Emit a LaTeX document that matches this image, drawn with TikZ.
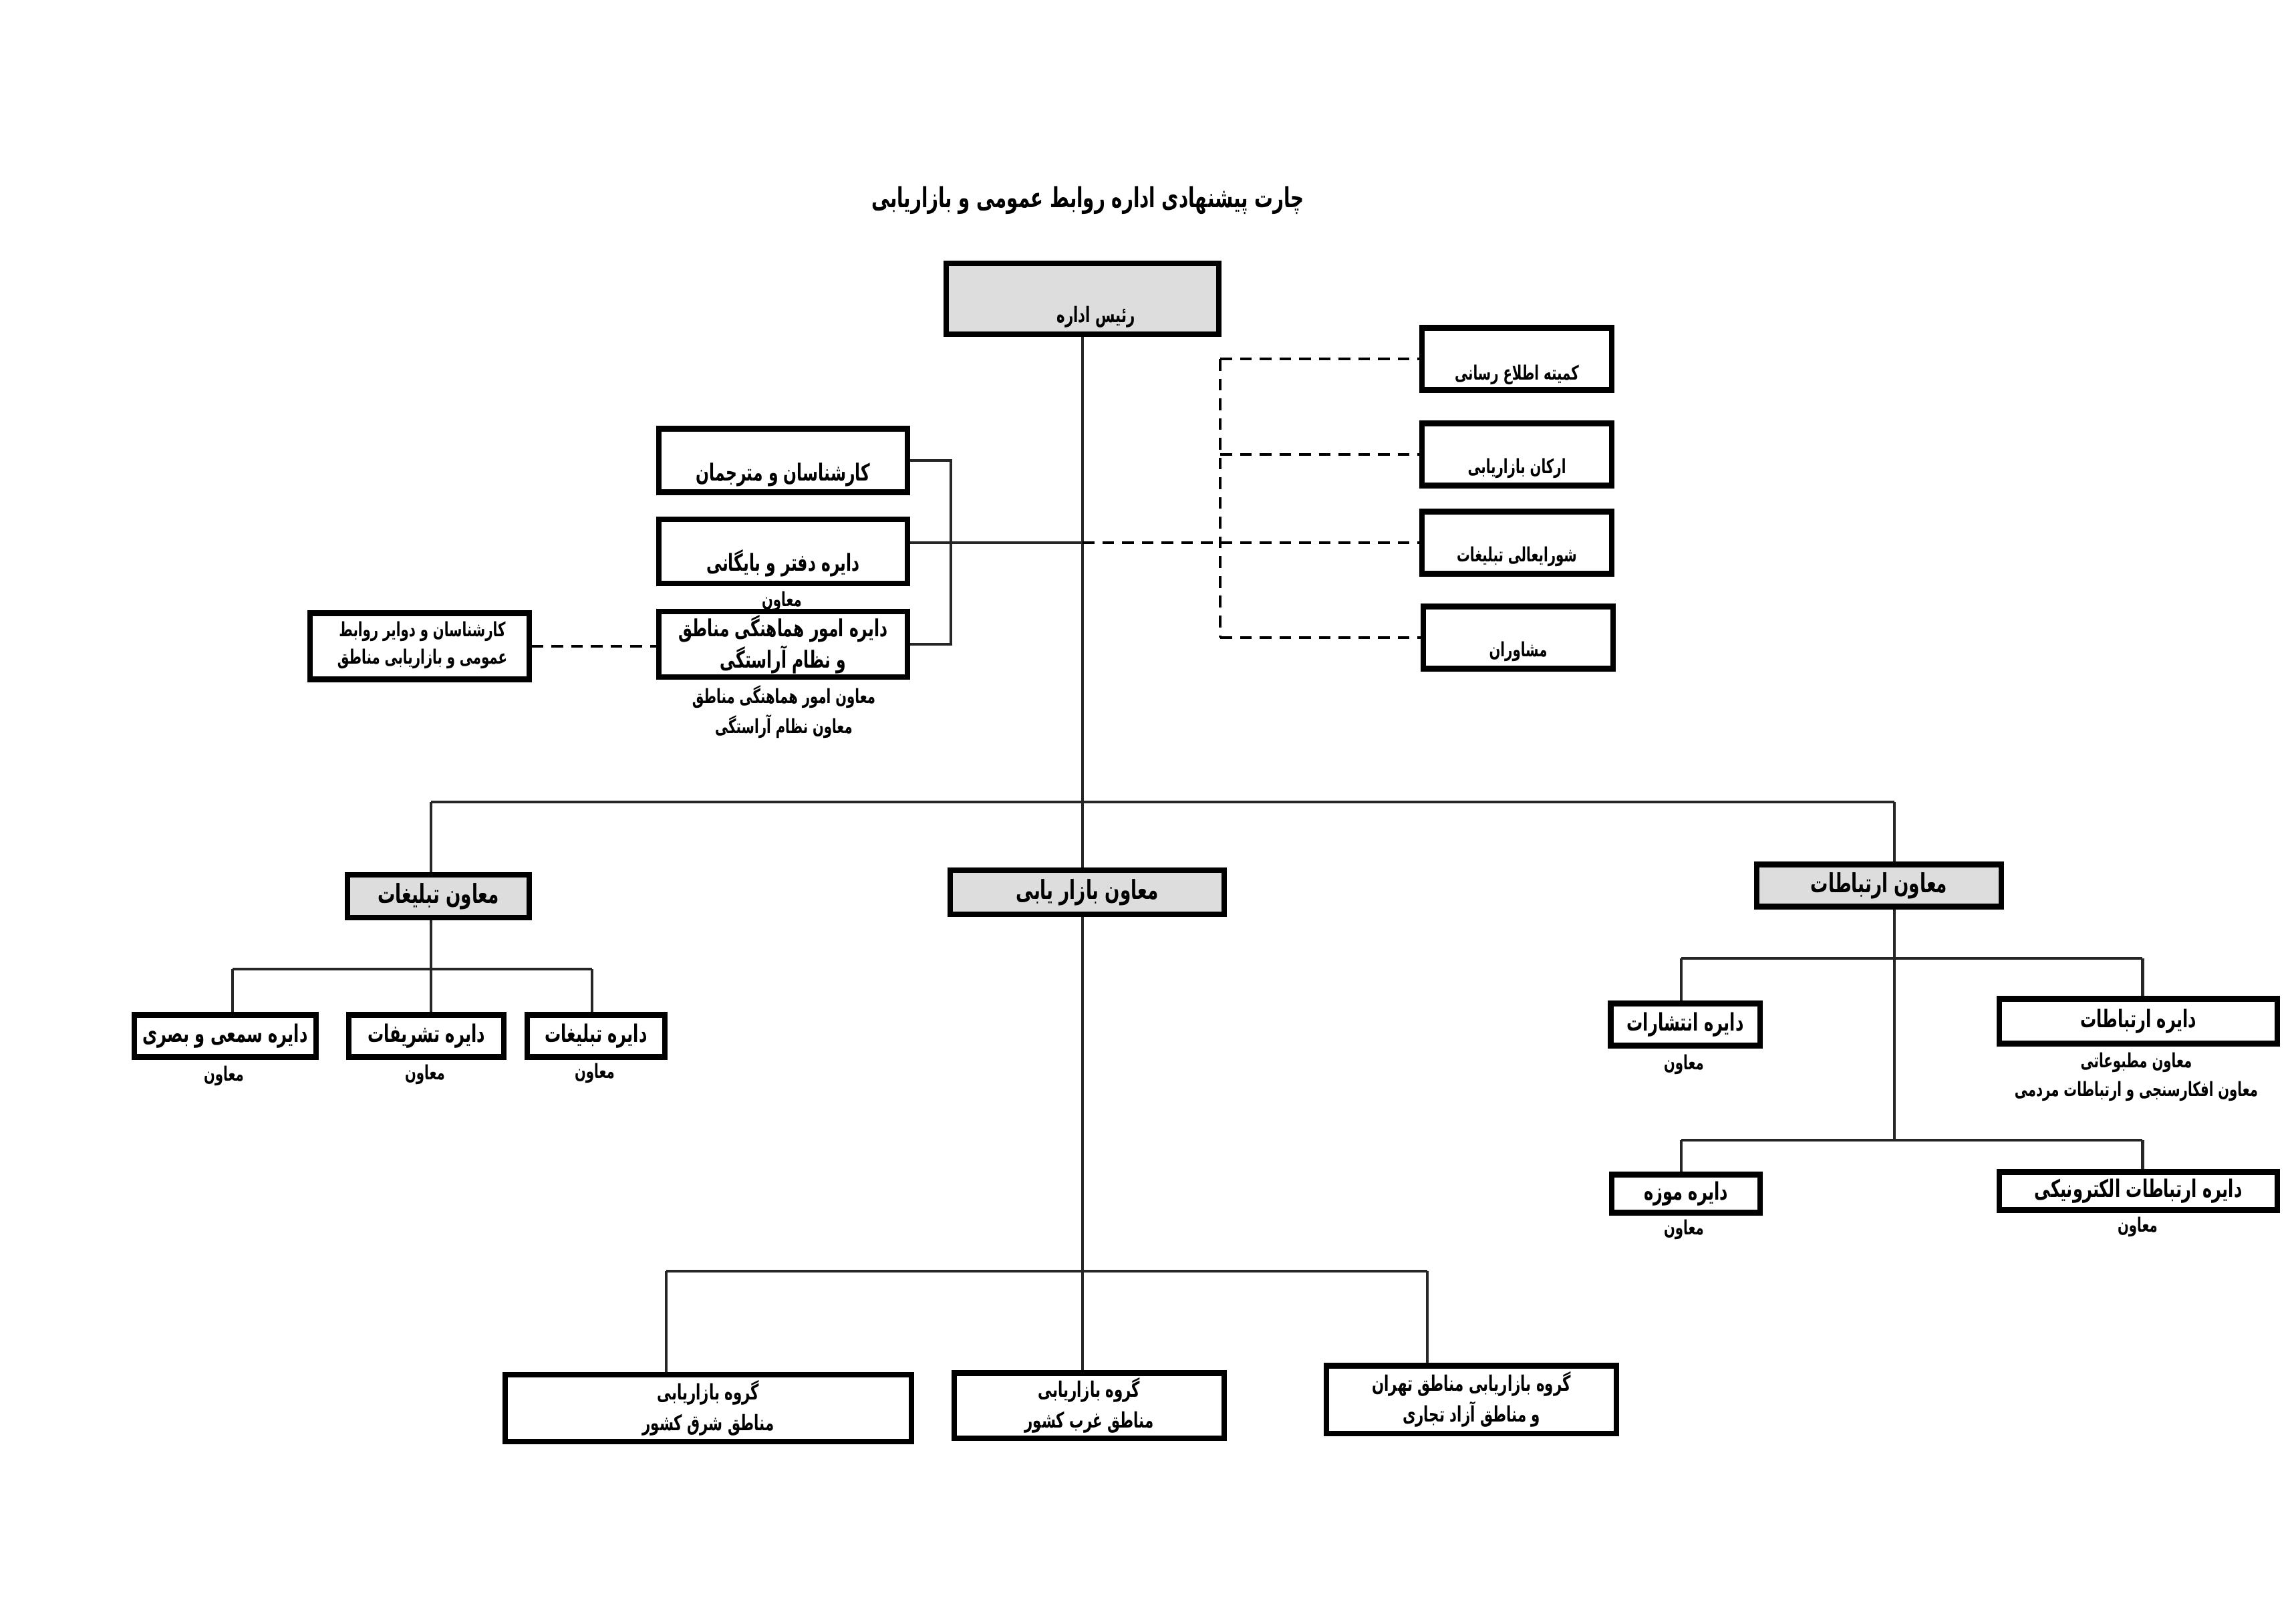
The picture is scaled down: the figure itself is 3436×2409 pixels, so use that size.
\documentclass[tikz,border=0pt]{standalone}
\usepackage{fontspec}
\newfontfamily\arabicfont[Script=Arabic,FakeStretch=0.667]{DejaVu Sans}
\TeXXeTstate=1
\newcommand\fatx[1]{\beginR #1\endR}
\begin{document}
\begin{tikzpicture}[x=0.01cm,y=-0.01cm,
  box/.style={draw=black, line width=2.3pt, rectangle, inner sep=0pt, fill=white},
  shd/.style={box, fill=gray!27},
  txt/.style={inner sep=0pt, font=\arabicfont\bfseries, align=center},
  ttl/.style={txt, font=\arabicfont\bfseries\fontsize{11.8}{14}\selectfont},
  fhead/.style={txt, font=\arabicfont\bfseries\fontsize{9.1}{12}\selectfont},
  fL/.style={txt, font=\arabicfont\bfseries\fontsize{10}{13.4}\selectfont},
  fdep/.style={txt, font=\arabicfont\bfseries\fontsize{11.2}{13}\selectfont},
  fmid/.style={txt, font=\arabicfont\bfseries\fontsize{10.3}{12}\selectfont},
  fbot/.style={txt, font=\arabicfont\bfseries\fontsize{9.1}{13}\selectfont},
  fsm/.style={txt, font=\arabicfont\bfseries\fontsize{8.4}{11.7}\selectfont},
  conn/.style={draw=black!85, line width=1.4pt},
  dconn/.style={draw=black, line width=1.1pt, dash pattern=on 5pt off 3.4pt}]
\useasboundingbox[fill=white] (0,0) rectangle (3436,2409);

% title
\node[ttl] (title) at (1628,300) {\fatx{چارت پیشنهادی اداره روابط عمومی و بازاریابی}};

% head
\node[shd, minimum width=4.07cm, minimum height=1.06cm] (head) at (1620,447) {};
\node[fhead] (headt) at (1640,474) {\fatx{رئیس اداره}};

% right committee boxes
\node[box, minimum width=2.83cm, minimum height=0.93cm] (r1) at (2270,537) {};
\node[fsm] (r1t) at (2270,561) {\fatx{کمیته اطلاع رسانی}};
\node[box, minimum width=2.83cm, minimum height=0.93cm] (r2) at (2270,680) {};
\node[fsm] (r2t) at (2270,701) {\fatx{ارکان بازاریابی}};
\node[box, minimum width=2.83cm, minimum height=0.93cm] (r3) at (2270,812) {};
\node[fsm] (r3t) at (2270,833) {\fatx{شورایعالی تبلیغات}};
\node[box, minimum width=2.83cm, minimum height=0.93cm] (r4) at (2272,954) {};
\node[fsm] (r4t) at (2272,975) {\fatx{مشاوران}};

% left staff boxes
\node[box, minimum width=3.71cm, minimum height=0.95cm] (L1) at (1172,689) {};
\node[fL] (L1t) at (1172,710) {\fatx{کارشناسان و مترجمان}};
\node[box, minimum width=3.71cm, minimum height=0.96cm] (L2) at (1172,825) {};
\node[fL] (L2t) at (1172,843) {\fatx{دایره دفتر و بایگانی}};
\node[fsm] (L2c) at (1170,900) {\fatx{معاون}};
\node[box, minimum width=3.71cm, minimum height=0.98cm] (L3) at (1172,964) {};
\node[fL] (L3t) at (1172,964) {\fatx{دایره امور هماهنگی مناطق}\\\fatx{و نظام آراستگی}};
\node[fsm] (L3c1) at (1173,1043) {\fatx{معاون امور هماهنگی مناطق}};
\node[fsm] (L3c2) at (1173,1087) {\fatx{معاون نظام آراستگی}};

\node[box, minimum width=3.27cm, minimum height=0.99cm] (FL) at (628,967) {};
\node[fsm] (FLt) at (632,965) {\fatx{کارشناسان و دوایر روابط}\\\fatx{عمومی و بازاریابی مناطق}};

% deputies
\node[shd, minimum width=2.72cm, minimum height=0.64cm, fdep] (tab) at (656,1341) {\fatx{معاون تبلیغات}};
\node[shd, minimum width=4.09cm, minimum height=0.66cm, fdep] (baz) at (1627,1335) {\fatx{معاون بازار یابی}};
\node[shd, minimum width=3.65cm, minimum height=0.63cm, fdep] (ert) at (2812,1325) {\fatx{معاون ارتباطات}};

% tablighat departments
\node[box, minimum width=2.71cm, minimum height=0.63cm, fmid] (t1) at (337,1550) {\fatx{دایره سمعی  و بصری}};
\node[box, minimum width=2.32cm, minimum height=0.63cm, fmid] (t2) at (638,1550) {\fatx{دایره تشریفات}};
\node[box, minimum width=2.05cm, minimum height=0.63cm, fmid] (t3) at (892,1550) {\fatx{دایره تبلیغات}};
\node[fsm] (t1c) at (335,1610) {\fatx{معاون}};
\node[fsm] (t2c) at (636,1608) {\fatx{معاون}};
\node[fsm] (t3c) at (890,1606) {\fatx{معاون}};

% ertebatat departments
\node[box, minimum width=2.23cm, minimum height=0.63cm, fmid] (e1) at (2522,1533) {\fatx{دایره انتشارات}};
\node[box, minimum width=4.16cm, minimum height=0.67cm, fmid] (e2) at (3200,1528) {\fatx{دایره ارتباطات}};
\node[box, minimum width=2.22cm, minimum height=0.57cm, fmid] (e3) at (2523,1786) {\fatx{دایره موزه}};
\node[box, minimum width=4.15cm, minimum height=0.57cm, fmid] (e4) at (3200,1782) {\fatx{دایره ارتباطات الکترونیکی}};
\node[fsm] (e1c) at (2520,1593) {\fatx{معاون}};
\node[fsm] (e2c1) at (3197,1590) {\fatx{معاون مطبوعاتی}};
\node[fsm] (e2c2) at (3197,1633) {\fatx{معاون افکارسنجی و ارتباطات مردمی}};
\node[fsm] (e3c) at (2520,1840) {\fatx{معاون}};
\node[fsm] (e4c) at (3199,1836) {\fatx{معاون}};

% marketing groups
\node[box, minimum width=6.07cm, minimum height=1.00cm, fbot] (b1) at (1060,2107) {\fatx{گروه بازاریابی}\\\fatx{مناطق شرق کشور}};
\node[box, minimum width=4.03cm, minimum height=0.97cm, fbot] (b2) at (1630,2103) {\fatx{گروه بازاریابی}\\\fatx{مناطق غرب کشور}};
\node[box, minimum width=4.34cm, minimum height=1.01cm, fbot] (b3) at (2202,2094) {\fatx{گروه بازاریابی مناطق تهران}\\\fatx{و مناطق آزاد تجاری}};

% helper coordinates
\coordinate (sp) at (1620,812);
\coordinate (dv) at (1826,812);
\coordinate (bk) at (1423,812);
\coordinate (bl) at (645,1200);
\coordinate (br) at (2835,1200);
\coordinate (tl) at (348,1450);
\coordinate (tr) at (886,1450);
\coordinate (el) at (2516,1434);
\coordinate (er) at (3206,1434);
\coordinate (el2) at (2516,1706);
\coordinate (er2) at (3206,1706);
\coordinate (bbl) at (997,1902);
\coordinate (bbr) at (2136,1902);

% spine
\draw[conn] (head.south) -- (head.south |- baz.north);
\draw[conn] (baz.south -| head.south) -- (head.south |- b2.north);
% staff bracket
\draw[conn] (L1.east) -| (bk |- L3.east) -- (L3.east);
\draw[conn] (L2.east |- sp) -- (sp);
% dashed advisory links
\draw[dconn] (sp) -- (dv);
\draw[dconn] (r1.west -| dv) -- (r4.west -| dv);
\foreach \r in {r1,r2,r3,r4} \draw[dconn] (\r.west -| dv) -- (\r.west);
\draw[dconn] (FL.east) -- (FL.east -| L3.west);
% deputies bar
\draw[conn] (bl) -- (br);
\draw[conn] (bl) -- (bl |- tab.north);
\draw[conn] (br) -- (br |- ert.north);
% tablighat subtree
\draw[conn] (tab.south -| bl) -- (bl |- tl);
\draw[conn] (tl) -- (tr);
\draw[conn] (tl) -- (tl |- t1.north);
\draw[conn] (bl |- tl) -- (bl |- t2.north);
\draw[conn] (tr) -- (tr |- t3.north);
% ertebatat subtree
\draw[conn] (ert.south -| br) -- (br |- el2);
\draw[conn] (el) -- (er);
\draw[conn] (el) -- (el |- e1.north);
\draw[conn] (er) -- (er |- e2.north);
\draw[conn] (el2) -- (er2);
\draw[conn] (el2) -- (el2 |- e3.north);
\draw[conn] (er2) -- (er2 |- e4.north);
% marketing subtree
\draw[conn] (bbl) -- (bbr);
\draw[conn] (bbl) -- (bbl |- b1.north);
\draw[conn] (bbr) -- (bbr |- b3.north);
\end{tikzpicture}
\end{document}
